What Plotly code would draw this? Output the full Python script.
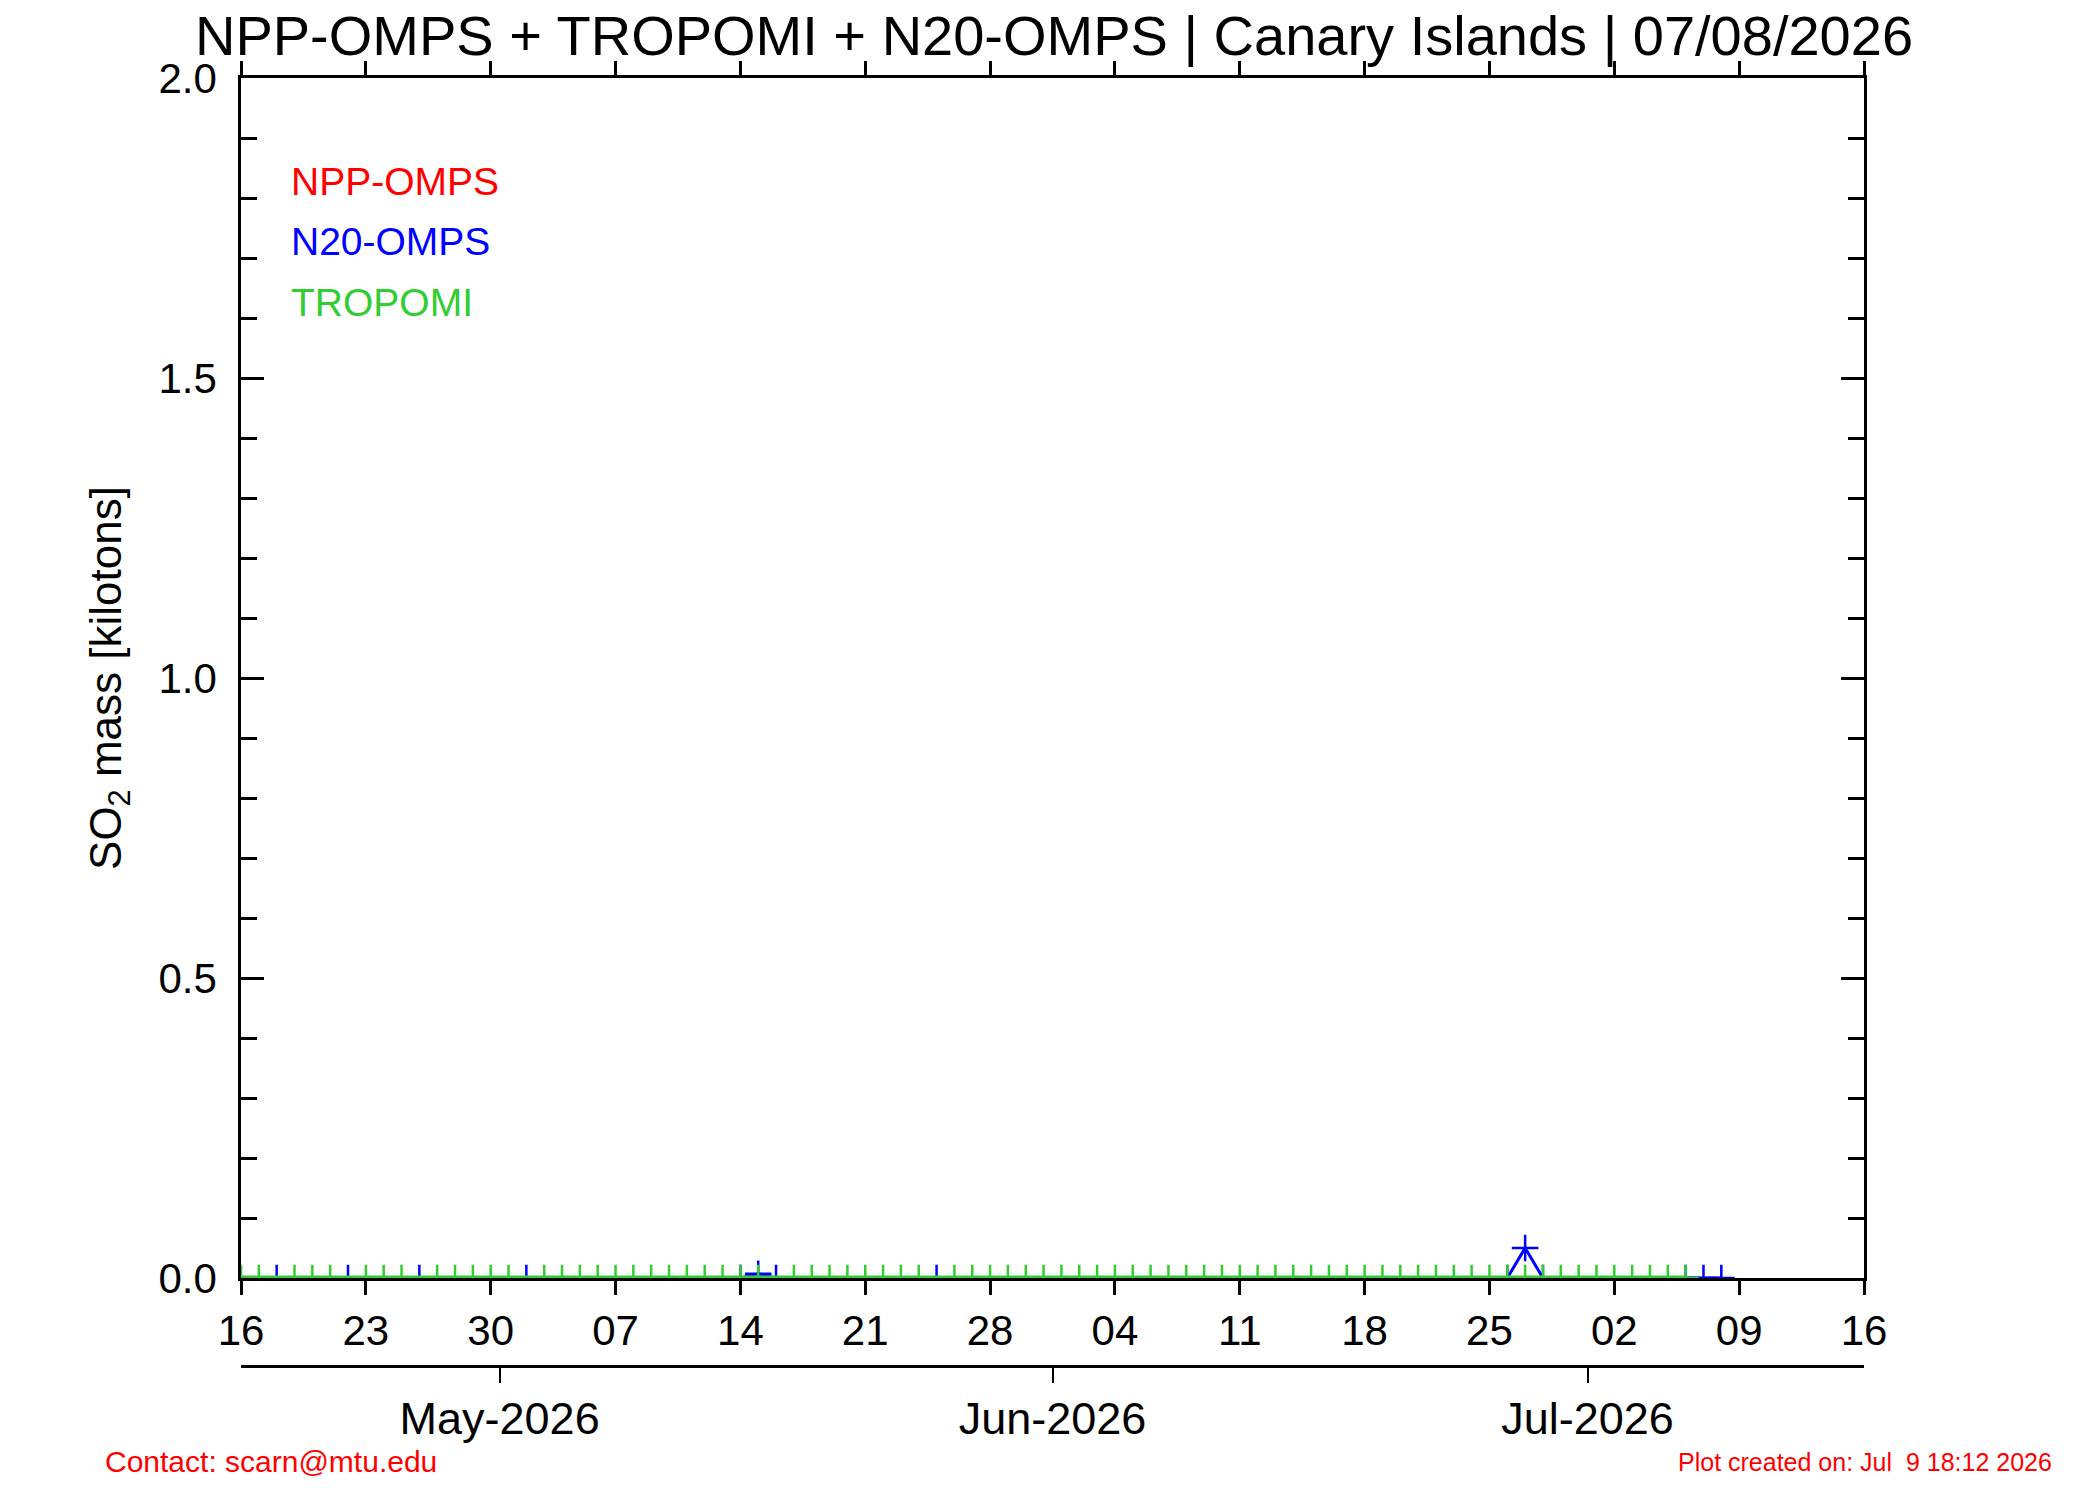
import plotly.graph_objects as go

# ---------------- data ----------------
tropomi_dates = [
    "2026-04-16", "2026-04-17", "2026-04-19", "2026-04-20", "2026-04-21", "2026-04-23",
    "2026-04-24", "2026-04-25", "2026-04-27", "2026-04-28", "2026-04-29", "2026-04-30",
    "2026-05-01", "2026-05-03", "2026-05-04", "2026-05-05", "2026-05-06", "2026-05-07",
    "2026-05-08", "2026-05-09", "2026-05-10", "2026-05-11", "2026-05-12", "2026-05-13",
    "2026-05-14", "2026-05-15", "2026-05-17", "2026-05-18", "2026-05-19", "2026-05-20",
    "2026-05-21", "2026-05-22", "2026-05-23", "2026-05-24", "2026-05-26", "2026-05-27",
    "2026-05-28", "2026-05-29", "2026-05-30", "2026-05-31",
    "2026-06-01", "2026-06-02", "2026-06-03", "2026-06-04", "2026-06-05", "2026-06-06",
    "2026-06-07", "2026-06-08", "2026-06-09", "2026-06-10", "2026-06-11", "2026-06-12",
    "2026-06-13", "2026-06-14", "2026-06-15", "2026-06-16", "2026-06-17", "2026-06-18",
    "2026-06-19", "2026-06-20", "2026-06-21", "2026-06-22", "2026-06-23", "2026-06-24",
    "2026-06-25", "2026-06-26", "2026-06-27", "2026-06-28", "2026-06-29", "2026-06-30",
    "2026-07-01", "2026-07-02", "2026-07-03", "2026-07-04", "2026-07-05", "2026-07-06",
]
tropomi_mass = [
    0.0, 0.0, 0.0, 0.0, 0.0, 0.0, 0.0, 0.0, 0.0, 0.0, 0.0, 0.0,
    0.0, 0.0, 0.0, 0.0, 0.0, 0.0, 0.0, 0.0, 0.0, 0.0, 0.0, 0.0,
    0.0, 0.0, 0.0, 0.0, 0.0, 0.0, 0.0, 0.0, 0.0, 0.0, 0.0, 0.0,
    0.0, 0.0, 0.0, 0.0,
    0.0, 0.0, 0.0, 0.0, 0.0, 0.0, 0.0, 0.0, 0.0, 0.0, 0.0, 0.0,
    0.0, 0.0, 0.0, 0.0, 0.0, 0.0, 0.0, 0.0, 0.0, 0.0, 0.0, 0.0,
    0.0, 0.0, 0.0, 0.0, 0.0, 0.0,
    0.0, 0.0, 0.0, 0.0, 0.0, 0.0,
]

n20_dates = [
    "2026-04-18", "2026-04-22", "2026-04-26", "2026-05-02", "2026-05-14", "2026-05-15",
    "2026-05-16", "2026-05-25", "2026-06-26", "2026-06-27", "2026-06-28", "2026-07-06",
    "2026-07-07", "2026-07-08",
]
n20_mass = [0.0, 0.0, 0.0, 0.0, 0.0, 0.007, 0.0, 0.0, 0.0, 0.05, 0.0, 0.0, 0.0, 0.0]

npp_dates = []
npp_mass = []

legend_names = ["NPP-OMPS", "N20-OMPS", "TROPOMI"]
legend_colors = ["#ff0000", "#0000ff", "#32cd32"]

month_tick_dates = ["2026-04-30 12:00", "2026-05-31 12:00", "2026-06-30 12:00"]
month_tick_labels = ["May-2026", "Jun-2026", "Jul-2026"]

title_text = "NPP-OMPS + TROPOMI + N20-OMPS | Canary Islands | 07/08/2026"
contact_text = "Contact: scarn@mtu.edu"
created_text = "Plot created on: Jul\u00a0\u00a09 18:12 2026"

x_range = ["2026-04-16", "2026-07-16"]
y_range = [0, 2]

# ---------------- layout geometry ----------------
W, H = 2100, 1500
L, R, T, B = 233, 244, 70, 100
PW = W - L - R
PH = H - T - B
Y0_PX = 1270          # pixel row of y = 0
MONTH_AXIS_PX = 1358  # pixel row of the month axis


def fx(px):
    return (px - L) / PW


def fy(py):
    return (H - B - py) / PH


FONT = "Liberation Sans, Arial, Helvetica, sans-serif"
DAY_MS = 86400000
MARK = dict(symbol="cross-thin-open", size=19)

fig = go.Figure()

fig.add_trace(go.Scatter(
    x=npp_dates, y=npp_mass, mode="lines+markers", name="NPP-OMPS",
    line=dict(color=legend_colors[0], width=3),
    marker=dict(**MARK, line=dict(color=legend_colors[0], width=2.5)),
    cliponaxis=True,
))
fig.add_trace(go.Scatter(
    x=n20_dates, y=n20_mass, mode="lines+markers", name="N20-OMPS",
    line=dict(color=legend_colors[1], width=3),
    marker=dict(**MARK, line=dict(color=legend_colors[1], width=2.5)),
    cliponaxis=True,
))
fig.add_trace(go.Scatter(
    x=tropomi_dates, y=tropomi_mass, mode="lines+markers", name="TROPOMI",
    line=dict(color=legend_colors[2], width=5),
    marker=dict(**MARK, line=dict(color=legend_colors[2], width=2.5)),
    cliponaxis=True,
))
# invisible helper trace so the month axis is drawn
fig.add_trace(go.Scatter(
    x=x_range, y=[None, None], xaxis="x2", yaxis="y", mode="lines",
    hoverinfo="skip", showlegend=False,
))

annotations = []
for i, (name, col) in enumerate(zip(legend_names, legend_colors)):
    annotations.append(dict(
        text=name, x=fx(281), y=fy(174 + 60 * i), xref="paper", yref="paper",
        xanchor="left", yanchor="middle", showarrow=False,
        font=dict(family=FONT, size=39, color=col),
    ))
annotations.append(dict(
    text=contact_text, x=fx(95), y=fy(1453), xref="paper", yref="paper",
    xanchor="left", yanchor="middle", showarrow=False,
    font=dict(family=FONT, size=30, color="#ff0000"),
))
annotations.append(dict(
    text=created_text, x=fx(2046), y=fy(1454), xref="paper", yref="paper",
    xanchor="right", yanchor="middle", showarrow=False,
    font=dict(family=FONT, size=25, color="#ff0000"),
))

fig.update_layout(
    width=W, height=H,
    margin=dict(l=L, r=R, t=T, b=B, pad=0),
    paper_bgcolor="white", plot_bgcolor="white",
    showlegend=False,
    font=dict(family=FONT, color="black"),
    title=dict(text=title_text, x=1046 / W, xref="container", xanchor="center",
               y=1 - 27 / H, yref="container", yanchor="middle",
               font=dict(family=FONT, size=56, color="black")),
    annotations=annotations,
    xaxis=dict(
        type="date", range=x_range, tick0=x_range[0], dtick=7 * DAY_MS,
        tickformat="%d", ticks="outside", ticklen=14, tickwidth=2.5, tickcolor="black",
        showline=True, linecolor="black", linewidth=2.5, mirror="ticks",
        showgrid=False, zeroline=False, layer="below traces",
        tickfont=dict(family=FONT, size=42, color="black"),
        ticklabelstandoff=0, anchor="y",
    ),
    xaxis2=dict(
        type="date", range=x_range, overlaying="x", anchor="free",
        position=fy(MONTH_AXIS_PX), side="bottom",
        tickmode="array", tickvals=month_tick_dates, ticktext=month_tick_labels,
        ticks="outside", ticklen=15, tickwidth=2, tickcolor="black",
        showline=True, linecolor="black", linewidth=3,
        showgrid=False, zeroline=False,
        tickfont=dict(family=FONT, size=45, color="black"),
        ticklabelstandoff=-3,
    ),
    yaxis=dict(
        range=y_range, domain=[fy(Y0_PX), 1], dtick=0.5, tickformat=".1f",
        ticks="inside", ticklen=23, tickwidth=2.5, tickcolor="black",
        minor=dict(dtick=0.1, ticks="inside", ticklen=16, tickwidth=2.5, tickcolor="black",
                   showgrid=False),
        showline=True, linecolor="black", linewidth=2.5, mirror="ticks",
        showgrid=False, zeroline=False,
        tickfont=dict(family=FONT, size=42, color="black"),
        ticklabelstandoff=13,
        title=dict(text="SO<sub>2</sub> mass [kilotons]", standoff=24,
                   font=dict(family=FONT, size=44, color="black")),
    ),
)

fig.write_html("out.html")
